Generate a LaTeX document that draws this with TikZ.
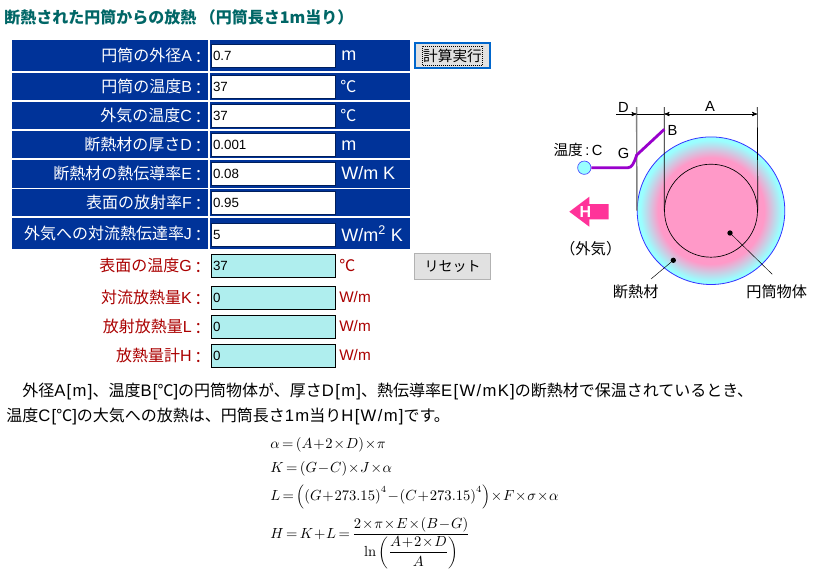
\documentclass[tikz,border=0pt]{standalone}
\usepackage[no-math]{fontspec}
\setmainfont{Liberation Sans}
\newfontfamily\jp{Noto Sans CJK JP}
\newfontfamily\lat[LetterSpace=8]{Liberation Sans}
\usepackage{xcolor}
\usetikzlibrary{arrows}
\definecolor{rowblue}{HTML}{003399}
\definecolor{resultcyan}{HTML}{AFEEEE}
\definecolor{darkred}{HTML}{AA0000}
\definecolor{titleteal}{HTML}{006666}
\definecolor{btngrey}{HTML}{E1E1E1}
\definecolor{wirepurple}{HTML}{9900CC}
\definecolor{hotpink}{HTML}{FF3399}
\definecolor{corepink}{HTML}{FF99C8}
\definecolor{edgecyan}{HTML}{99FFFF}
\pgfdeclareradialshading{insulation}{\pgfpoint{0bp}{0bp}}{%
  color(0bp)=(corepink); color(18bp)=(corepink); color(24bp)=(edgecyan); color(50bp)=(edgecyan)}
\newcommand{\sz}[1]{\fontsize{#1}{#1}\selectfont}
\newcommand{\jt}[1]{{\jp\sz{12}#1}}
\newcommand{\cln}{\kern-1pt\raisebox{-1.2pt}{\jt{：}}\kern-2pt}
\newcommand{\degc}{\makebox[12pt]{\jt{℃}}}
\newcommand{\eqskips}{\medmuskip=1mu \thickmuskip=3mu }

\begin{document}
\begin{tikzpicture}[x=0.75pt,y=-0.75pt,>=stealth']
    \tikzset{labelcell/.style={fill=rowblue,text=white,inner sep=0pt,minimum height=#1*0.75pt,
        minimum width=147pt,text width=141pt,align=right,font=\sz{12}}}
    \tikzset{valuecell/.style={fill=rowblue,inner sep=0pt,minimum height=#1*0.75pt,minimum width=150pt}}
    \tikzset{inputbox/.style={draw=rowblue!60!black,fill=white,line width=0.75pt,inner sep=0pt,minimum height=17.25pt,
        minimum width=93pt,text width=90pt,align=left,font=\sz{10}}}
    \tikzset{resultbox/.style={inputbox,draw=black,fill=resultcyan}}
    \tikzset{unitwhite/.style={anchor=west,inner sep=0pt,text=white,font=\sz{13.5}}}
    \tikzset{unitred/.style={anchor=west,inner sep=0pt,text=darkred,font=\sz{11.5}}}
    \tikzset{redlabel/.style={anchor=east,inner sep=0pt,text=darkred,font=\sz{12}}}
    \tikzset{bodytext/.style={anchor=west,inner sep=0pt,font=\lat\sz{12.5}}}
    \tikzset{formula/.style={anchor=west,inner sep=0pt,font=\sz{10.5},execute at begin node=\eqskips}}
    \tikzset{figlabel/.style={inner sep=0pt,font=\sz{11}}}
    \tikzset{leaderdot/.style={circle,fill=black,inner sep=0pt,minimum size=4pt}}
    \useasboundingbox (0,0) rectangle (824,587);
    % title
    \node[anchor=west,inner sep=0pt,text=titleteal,font=\bfseries\sz{12}] (title) at (4,17)
      {\jt{\bfseries 断熱された円筒からの放熱 （円筒長さ1m当り）}};
    % input rows
    \node[labelcell=31] (rowA) at (110,55.5) {\jt{円筒の外径}A\cln};
    \node[labelcell=27] (rowB) at (110,86.5) {\jt{円筒の温度}B\cln};
    \node[labelcell=27] (rowC) at (110,115.5) {\jt{外気の温度}C\cln};
    \node[labelcell=27] (rowD) at (110,144.5) {\jt{断熱材の厚さ}D\cln};
    \node[labelcell=28] (rowE) at (110,174) {\jt{断熱材の熱伝導率}E\cln};
    \node[labelcell=27] (rowF) at (110,202.5) {\jt{表面の放射率}F\cln};
    \node[labelcell=31] (rowJ) at (110,233.5) {\jt{外気への対流熱伝達率}J\cln};
    \node[valuecell=31] (cellA) at (310,55.5) {};
    \node[valuecell=27] (cellB) at (310,86.5) {};
    \node[valuecell=27] (cellC) at (310,115.5) {};
    \node[valuecell=27] (cellD) at (310,144.5) {};
    \node[valuecell=28] (cellE) at (310,174) {};
    \node[valuecell=27] (cellF) at (310,202.5) {};
    \node[valuecell=31] (cellJ) at (310,233.5) {};
    \node[inputbox] (inA) at (273,55.5) {0.7};
    \node[inputbox] (inB) at (273,86.5) {37};
    \node[inputbox] (inC) at (273,115.5) {37};
    \node[inputbox] (inD) at (273,144.5) {0.001};
    \node[inputbox] (inE) at (273,173.5) {0.08};
    \node[inputbox] (inF) at (273,202.5) {0.95};
    \node[inputbox] (inJ) at (273,234.5) {5};
    \node[unitwhite] (unitA) at (341,56) {m};
    \node[unitwhite] (unitB) at (340,86) {\degc};
    \node[unitwhite] (unitC) at (340,115) {\degc};
    \node[unitwhite] (unitD) at (341,145.5) {m};
    \node[unitwhite] (unitE) at (341,173) {W/m K};
    \node[unitwhite] (unitJ) at (341,233.5) {W/m\textsuperscript{2} K};
    % result rows
    \node[redlabel] (labG) at (204,265.5) {\jt{表面の温度}G\cln};
    \node[redlabel] (labK) at (204,297.5) {\jt{対流放熱量}K\cln};
    \node[redlabel] (labL) at (204,326.5) {\jt{放射放熱量}L\cln};
    \node[redlabel] (labH) at (204,355.5) {\jt{放熱量計}H\cln};
    \node[resultbox] (outG) at (273,265.5) {37};
    \node[resultbox] (outK) at (273,297.5) {0};
    \node[resultbox] (outL) at (273,326.5) {0};
    \node[resultbox] (outH) at (273,355.5) {0};
    \node[unitred] (unitG) at (339,265.5) {\degc};
    \node[unitred] (unitK) at (339,297) {W/m};
    \node[unitred] (unitL) at (339,326) {W/m};
    \node[unitred] (unitH) at (339,355) {W/m};
    % buttons
    \node[draw=blue!50!cyan!80!black,line width=1.5pt,fill=btngrey,minimum width=56pt,minimum height=19pt] (btnRun) at (452.5,55.5) {};
    \node[draw=black,densely dotted,line width=0.5pt,inner sep=0pt,minimum width=45pt,minimum height=14pt,font=\jp\sz{11}] (btnText) at (452.5,55.5) {計算実行};
    \node[draw=black!30,line width=0.9pt,fill=btngrey,inner sep=0pt,minimum width=57pt,minimum height=20pt,font=\jp\sz{10.5}] (btnReset) at (452.5,266.5) {リセット};
    % cylinder figure
    \node[circle,draw=blue!80!white,line width=0.6pt,shading=insulation,inner sep=0pt,minimum size=110.7pt] (outer) at (711,210.7) {};
    \node[circle,draw=black,line width=0.5pt,inner sep=0pt,minimum size=69.75pt] (core) at (711,210.7) {};
    \coordinate (topD) at (636.7,107);
    \coordinate (topL) at (664.3,107);
    \coordinate (topR) at (757.3,107);
    \coordinate (dimD) at (616,114);
    \coordinate (dimG) at (636.7,114);
    \coordinate (dimL) at (664.3,114);
    \coordinate (dimR) at (757.3,114);
    \draw[black!50,line width=1.1pt] (topD) -- (outer.west);
    \draw[line width=0.5pt] (topL) -- (core.west);
    \draw[line width=0.5pt] (topR) -- (core.east);
    \draw[->,line width=0.5pt] (dimD) -- (dimG);
    \draw[line width=0.5pt] (dimG) -- (dimL);
    \draw[<->,line width=0.5pt] (dimL) -- (dimR);
    \node[figlabel] (labelD) at (623.3,107) {D};
    \node[figlabel] (labelA) at (710,106.5) {A};
    \node[figlabel] (labelB) at (672.5,130) {B};
    \node[figlabel] (labelG) at (623.5,153) {G};
    \node[figlabel] (labelT) at (578,150) {{\jp\sz{11}温度}\,:\,C};
    \node[figlabel] (labelAir) at (590.7,248.3) {{\jp\sz{11.5}（外気）}};
    \node[circle,draw=blue!70!white,line width=0.5pt,fill=edgecyan,inner sep=0pt,minimum size=10pt] (air) at (584.3,167.7) {};
    \coordinate (wireB) at (664.3,129.3);
    \coordinate (wireG) at (636.7,155);
    \coordinate (wireC) at (628,167.7);
    \draw[wirepurple,line width=2.1pt] (air) -- (wireC) .. controls (632,167.7) and (634,163) .. (wireG) -- (wireB);
    % heat arrow
    \fill[hotpink] (569.3,211.7) -- (589.3,196.7) -- (589.3,204) -- (608.7,204) -- (608.7,219.3) -- (589.3,219.3) -- (589.3,226.7) -- cycle;
    \node[inner sep=0pt,text=white,font=\bfseries\sz{12}] (labelH) at (585.5,211.5) {H};
    % leaders
    \node[leaderdot] (dotIns) at (673.3,260.3) {};
    \node[leaderdot] (dotCore) at (730,233) {};
    \coordinate (endIns) at (651,279);
    \coordinate (endCore) at (772.3,274.3);
    \draw[line width=0.35pt] (dotIns) -- (endIns);
    \draw[line width=0.35pt] (dotCore) -- (endCore);
    \node[figlabel] (nameIns) at (635.7,291.7) {{\jp\sz{11.4}断熱材}};
    \node[figlabel] (nameCore) at (776.7,291.7) {{\jp\sz{11.4}円筒物体}};
    % body text
    \node[bodytext] (line1) at (22,391)
      {\jt{外径}A[m]\jt{、温度}B[\degc]\jt{の円筒物体が、厚さ}D[m]\jt{、熱伝導率}E[W/mK]\jt{の断熱材で保温されているとき、}};
    \node[bodytext] (line2) at (6,416)
      {\jt{温度}C[\degc]\jt{の大気への放熱は、円筒長さ}1m\jt{当り}H[W/m]\jt{です。}};
    % formulas
    \node[formula] (eqA) at (270,445) {$\alpha=(A+2\times D)\times\pi$};
    \node[formula] (eqK) at (270,469) {$K=(G-C)\times J\times\alpha$};
    \node[formula] (eqL) at (270,497) {$L=\Bigl(\bigl(G+273.15\bigr)^4-\bigl(C+273.15\bigr)^4\Bigr)\times F\times\sigma\times\alpha$};
    \node[formula] (eqH) at (270,543) {$\displaystyle H=K+L=\frac{2\times\pi\times E\times(B-G)}{\ln\left(\displaystyle\frac{A+2\times D}{A}\right)}$};
\end{tikzpicture}
\end{document}
